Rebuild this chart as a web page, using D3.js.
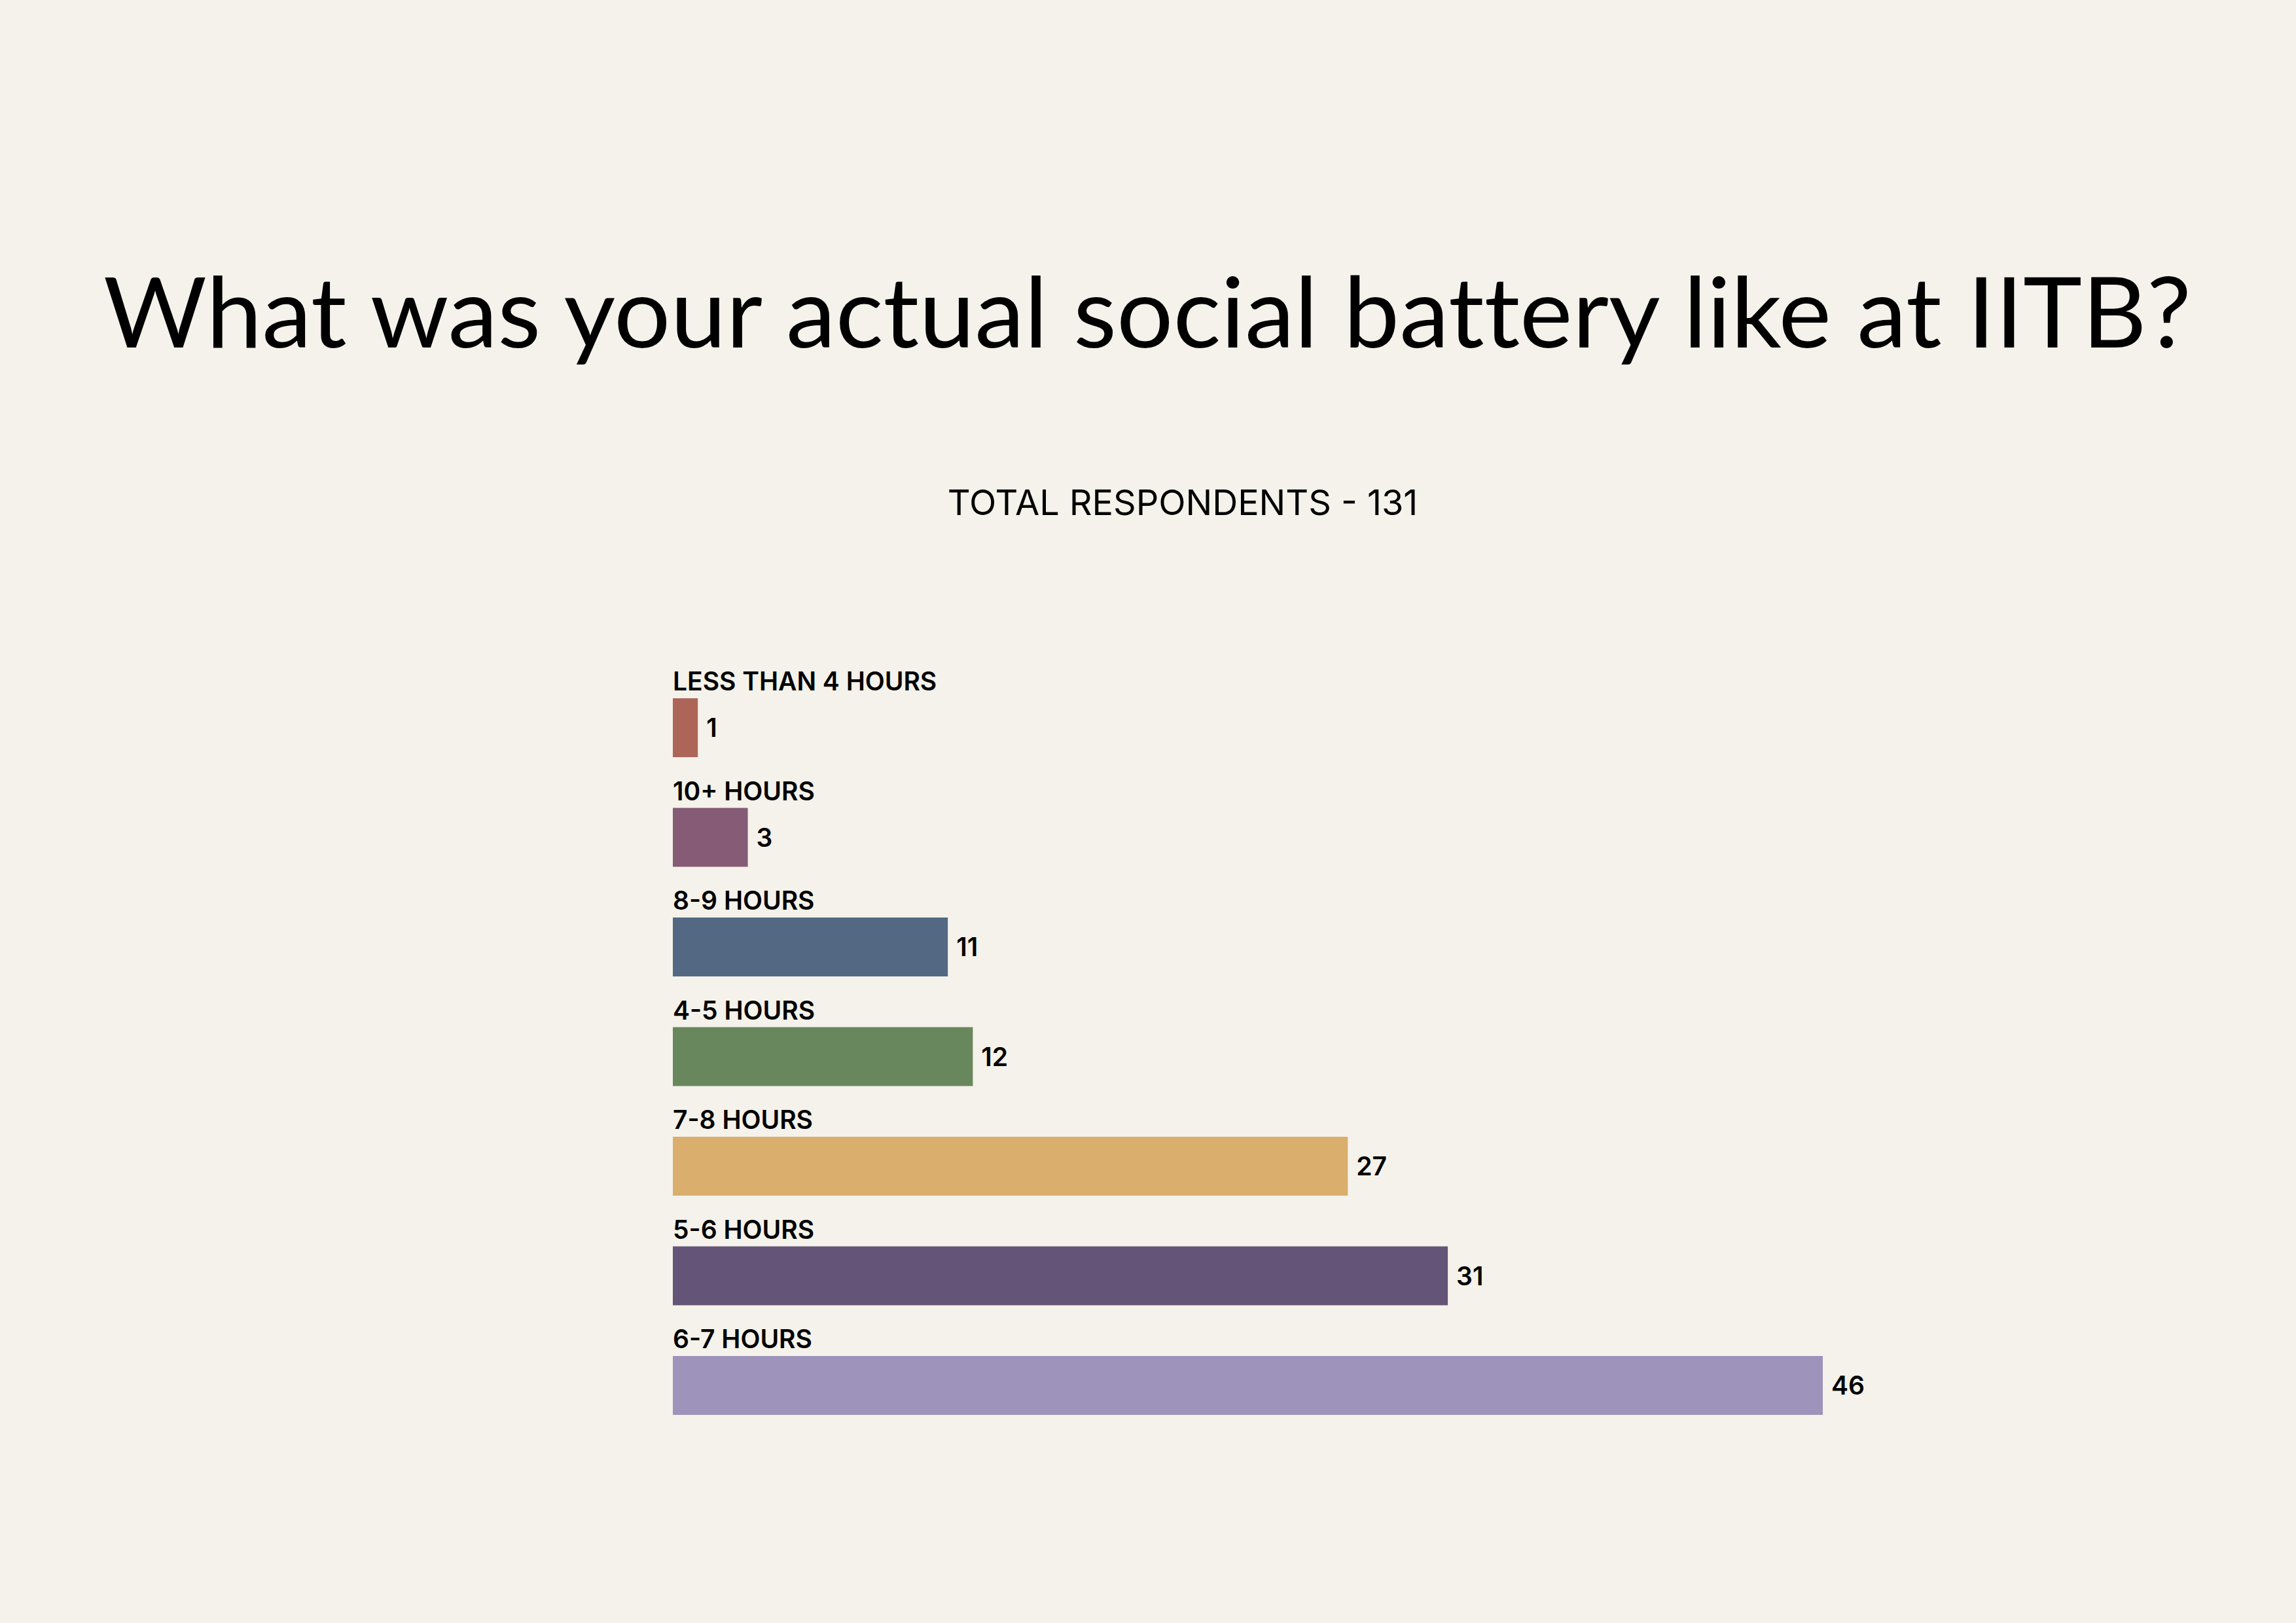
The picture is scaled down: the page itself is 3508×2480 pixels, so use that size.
<!DOCTYPE html>
<html>
<head>
<meta charset="utf-8">
<script src="https://d3js.org/d3.v7.min.js"></script>
<style>
html, body { margin: 0; padding: 0; background-color: #F4F2EA; }
svg { display: block; }
.title { font-family: Lato, "Noto Sans", sans-serif; font-weight: 400; fill: #000; font-variant-ligatures: none; }
.subtitle { font-family: Inter, "Noto Sans", sans-serif; font-weight: 400; fill: #000; }
.cat text, .val { font-family: Inter, "Noto Sans", sans-serif; font-weight: 600; fill: #000; }
</style>
</head>
<body>
<svg width="3508" height="2480"></svg>
<script>

// data, top to bottom as in the picture
var categories = ["LESS THAN 4 HOURS", "10+ HOURS", "8-9 HOURS", "4-5 HOURS", "7-8 HOURS", "5-6 HOURS", "6-7 HOURS"];
var values = [1, 3, 11, 12, 27, 31, 46];
var barColors = ["#AD6557", "#855B75", "#536983", "#69875D", "#DAAE6D", "#645477", "#9E93BA"];
var titleText = "What was your actual social battery like at IITB?";
var subtitleText = "TOTAL RESPONDENTS - 131";

var svg = d3.select("svg"),
    width = +svg.attr("width"),
    height = +svg.attr("height");

svg.append("rect")
    .attr("width", width)
    .attr("height", height)
    .attr("fill", "#F4F2EA");

svg.append("text")
    .attr("class", "title")
    .attr("x", 158)
    .attr("y", 531)
    .attr("font-size", 150)
    .attr("textLength", 3190)
    .attr("lengthAdjust", "spacingAndGlyphs")
    .text(titleText);

svg.append("text")
    .attr("class", "subtitle")
    .attr("x", 1807)
    .attr("y", 787)
    .attr("text-anchor", "middle")
    .attr("font-size", 54)
    .text(subtitleText);

var x = d3.scaleLinear()
    .domain([0, d3.max(values)])
    .range([1028, 2785]);

var y = d3.scaleBand()
    .domain(categories)
    .range([1067, 2162])
    .paddingInner(0.4627)
    .paddingOuter(0);

var rows = categories.map(function(c, i) {
  return { cat: c, value: values[i], color: barColors[i] };
});

var g = svg.selectAll(".cat")
  .data(rows)
  .enter().append("g")
    .attr("class", "cat");

g.append("text")
    .attr("x", x(0))
    .attr("y", function(d) { return y(d.cat) - 12; })
    .attr("font-size", 39)
    .text(function(d) { return d.cat; });

g.append("rect")
    .attr("x", x(0))
    .attr("y", function(d) { return y(d.cat); })
    .attr("width", function(d) { return x(d.value) - x(0); })
    .attr("height", y.bandwidth())
    .attr("fill", function(d) { return d.color; });

g.append("text")
    .attr("class", "val")
    .attr("x", function(d) { return x(d.value) + 13; })
    .attr("y", function(d) { return y(d.cat) + y.bandwidth() / 2; })
    .attr("dy", "0.36em")
    .attr("font-size", 39)
    .text(function(d) { return d.value; });

</script>
</body>
</html>
